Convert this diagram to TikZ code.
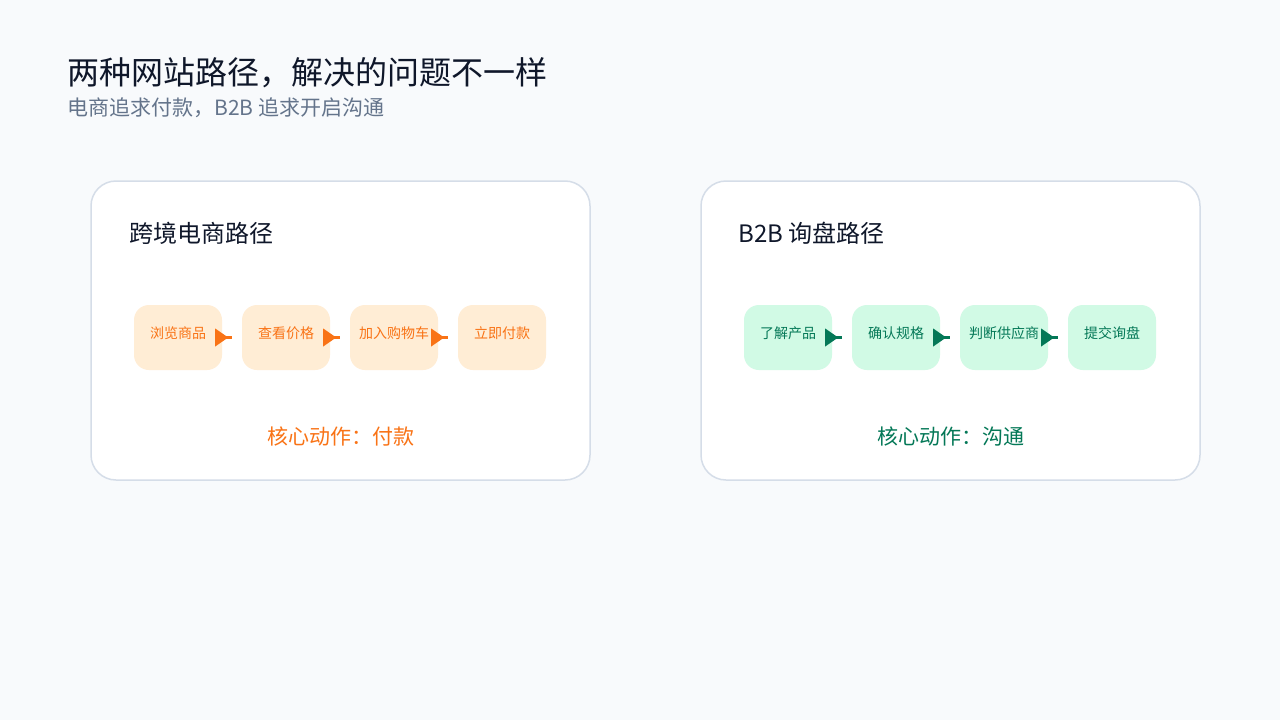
\documentclass[tikz,border=0pt]{standalone}
\usepackage{fontspec}
\setmainfont{Noto Sans CJK SC}
\begin{document}
\definecolor{bg}{HTML}{F8FAFC}
\definecolor{bd}{HTML}{D5DDE8}
\definecolor{ink}{HTML}{0F172A}
\definecolor{sub}{HTML}{64748B}
\definecolor{org}{HTML}{F97316}
\definecolor{orgf}{HTML}{FFEDD5}
\definecolor{grn}{HTML}{047857}
\definecolor{grnf}{HTML}{D1FAE5}
\begin{tikzpicture}[x=1pt,y=-1pt,
  card/.style={draw=bd,line width=1.5pt,fill=white,rounded corners=25pt},
  stepbox/.style={rounded corners=15pt,minimum width=88pt,minimum height=65pt,inner sep=0pt},
  lbl/.style={font=\fontsize{14}{16}\selectfont,anchor=center},
  tip/.style={fill=#1,draw=none}]
\fill[bg] (0,0) rectangle (1280,720);
\useasboundingbox (0,0) rectangle (1280,720);
\node[anchor=west,text=ink,font=\fontsize{32}{36}\selectfont] (t) at (64,73) {两种网站路径，解决的问题不一样};
\node[anchor=west,text=sub,font=\fontsize{21}{24}\selectfont] (s) at (64,108) {电商追求付款，B2B 追求开启沟通};
\draw[card] (91,181) rectangle (590,480);
\draw[card] (701,181) rectangle (1200,480);
\node[anchor=west,text=ink,font=\fontsize{24}{28}\selectfont] (c1) at (126,233) {跨境电商路径};
\node[anchor=west,text=ink,font=\fontsize{24}{28}\selectfont] (c2) at (735,233) {B2B 询盘路径};
\foreach \i/\t [count=\k from 0] in {a/浏览商品,b/查看价格,c/加入购物车,d/立即付款}{
  \node[stepbox,fill=orgf] (o\i) at (178+108*\k,337.5) {};
  \node[lbl,text=org] (ol\i) at (178+108*\k,333) {\t};
}
\foreach \i/\t [count=\k from 0] in {a/了解产品,b/确认规格,c/判断供应商,d/提交询盘}{
  \node[stepbox,fill=grnf] (g\i) at (788+108*\k,337.5) {};
  \node[lbl,text=grn] (gl\i) at (788+108*\k,333) {\t};
}
\foreach \a/\b [count=\k from 0] in {oa/ob,ob/oc,oc/od}{
  \coordinate (oe\k) at ([xshift=10pt]\a.east);
  \draw[org,line width=3pt] (\a.east) -- (oe\k);
  \fill[org] ([xshift=-7pt,yshift=-9pt]\a.east) -- ([xshift=6pt]\a.east) -- ([xshift=-7pt,yshift=9pt]\a.east) -- cycle;
}
\foreach \a/\b [count=\k from 0] in {ga/gb,gb/gc,gc/gd}{
  \coordinate (ge\k) at ([xshift=10pt]\a.east);
  \draw[grn,line width=3pt] (\a.east) -- (ge\k);
  \fill[grn] ([xshift=-7pt,yshift=-9pt]\a.east) -- ([xshift=6pt]\a.east) -- ([xshift=-7pt,yshift=9pt]\a.east) -- cycle;
}
\node[text=org,font=\fontsize{21}{24}\selectfont] (k1) at (340.5,436) {核心动作：付款};
\node[text=grn,font=\fontsize{21}{24}\selectfont] (k2) at (950.5,436) {核心动作：沟通};
\end{tikzpicture}
\end{document}
